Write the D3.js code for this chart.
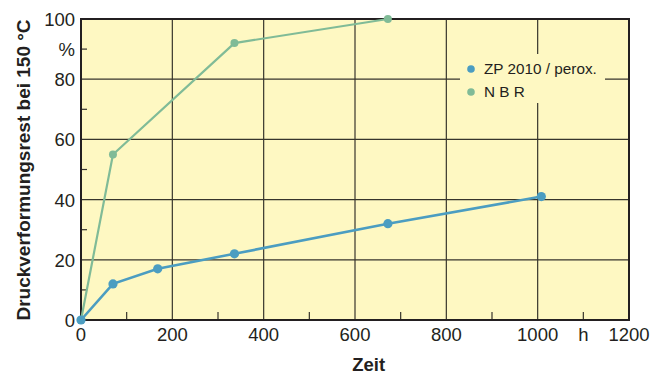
<!DOCTYPE html>
<html>
<head>
<meta charset="utf-8">
<script src="https://cdn.jsdelivr.net/npm/d3@7"></script>
<style>
  body { margin: 0; background: #fff; }
  text { font-family: "Liberation Sans", Arial, sans-serif; fill: #231f20; }
</style>
</head>
<body>
<div id="chart"></div>
<script>
// Data (time in h, compression set in %)
const zpHours = [0, 70, 168, 336, 672, 1008];
const zpValues = [0, 12, 17, 22, 32, 41];
const nbrHours = [0, 70, 336, 672];
const nbrValues = [0, 55, 92, 100];
const seriesNames = ["ZP 2010 / perox.", "N B R"];
const xTicks = [0, 200, 400, 600, 800, 1000, 1200];
const yTicks = [0, 20, 40, 60, 80, 100];

const width = 662;
const height = 377;
const margin = { top: 19, right: 33, bottom: 57, left: 81 };

const colors = ["#4b9dc1", "#80bb97"];

const x = d3.scaleLinear().domain([0, 1200]).range([margin.left, width - margin.right]);
const y = d3.scaleLinear().domain([0, 100]).range([height - margin.bottom, margin.top]);

const svg = d3.select("#chart")
  .append("svg")
    .attr("width", width)
    .attr("height", height);

// plot background
svg.append("rect")
  .attr("x", x(0)).attr("y", y(100))
  .attr("width", x(1200) - x(0)).attr("height", y(0) - y(100))
  .attr("fill", "#fef8c2");

// grid
const grid = svg.append("g").attr("stroke", "#37352c").attr("stroke-width", 1.2);
grid.selectAll(".vx")
  .data(xTicks.filter(d => d > 0 && d < 1200))
  .join("line")
    .attr("x1", d => x(d)).attr("x2", d => x(d))
    .attr("y1", y(0)).attr("y2", y(100));
grid.selectAll(".hy")
  .data(yTicks.filter(d => d > 0 && d < 100))
  .join("line")
    .attr("x1", x(0)).attr("x2", x(1200))
    .attr("y1", d => y(d)).attr("y2", d => y(d));

// minor ticks
grid.selectAll(".mx")
  .data(d3.range(100, 1200, 200))
  .join("line")
    .attr("x1", d => x(d)).attr("x2", d => x(d))
    .attr("y1", y(0)).attr("y2", y(0) - 8);
grid.selectAll(".my")
  .data(d3.range(10, 100, 20))
  .join("line")
    .attr("x1", x(0)).attr("x2", x(0) + 6)
    .attr("y1", d => y(d)).attr("y2", d => y(d));

// legend box covers the grid
svg.append("rect")
  .attr("x", 460).attr("y", 54)
  .attr("width", 145).attr("height", 49)
  .attr("fill", "#fef8c2");

// frame
svg.append("rect")
  .attr("x", x(0)).attr("y", y(100))
  .attr("width", x(1200) - x(0)).attr("height", y(0) - y(100))
  .attr("fill", "none")
  .attr("stroke", "#231f20")
  .attr("stroke-width", 2);

// axis labels
svg.append("g")
  .selectAll("text")
  .data(xTicks)
  .join("text")
    .attr("x", d => x(d))
    .attr("y", y(0) + 21)
    .attr("text-anchor", "middle")
    .attr("font-size", 18.5)
    .text(d => d);
svg.append("text")
  .attr("x", x(1100)).attr("y", y(0) + 21)
  .attr("text-anchor", "middle")
  .attr("font-size", 18.5)
  .text("h");

svg.append("g")
  .selectAll("text")
  .data(yTicks)
  .join("text")
    .attr("x", x(0) - 6)
    .attr("y", d => y(d) + 7)
    .attr("text-anchor", "end")
    .attr("font-size", 18.5)
    .text(d => d);
svg.append("text")
  .attr("x", x(0) - 6).attr("y", y(90) + 7)
  .attr("text-anchor", "end")
  .attr("font-size", 18.5)
  .text("%");

svg.append("text")
  .attr("x", x(630)).attr("y", 371)
  .attr("text-anchor", "middle")
  .attr("font-size", 18.5)
  .attr("font-weight", "bold")
  .text("Zeit");

svg.append("text")
  .attr("transform", "translate(30,170) rotate(-90)")
  .attr("text-anchor", "middle")
  .attr("font-size", 19)
  .attr("font-weight", "bold")
  .text("Druckverformungsrest bei 150 °C");

// lines
const line = d3.line().x(d => x(d[0])).y(d => y(d[1]));
const series = [
  { name: seriesNames[1], pts: d3.zip(nbrHours, nbrValues), color: colors[1], w: 2.2, r: 4 },
  { name: seriesNames[0], pts: d3.zip(zpHours, zpValues), color: colors[0], w: 2.6, r: 4.6 }
];

series.forEach(s => {
  svg.append("path")
    .datum(s.pts)
    .attr("fill", "none")
    .attr("stroke", s.color)
    .attr("stroke-width", s.w)
    .attr("d", line);
  svg.append("g")
    .selectAll("circle")
    .data(s.pts)
    .join("circle")
      .attr("cx", d => x(d[0]))
      .attr("cy", d => y(d[1]))
      .attr("r", s.r)
      .attr("fill", s.color);
});

// legend
const legend = svg.append("g");
seriesNames.forEach((name, i) => {
  legend.append("circle")
    .attr("cx", 471).attr("cy", 69 + i * 23)
    .attr("r", 3.8)
    .attr("fill", colors[i]);
  legend.append("text")
    .attr("x", 484).attr("y", 74 + i * 23)
    .attr("font-size", 15.3)
    .text(name);
});
</script>
</body>
</html>
